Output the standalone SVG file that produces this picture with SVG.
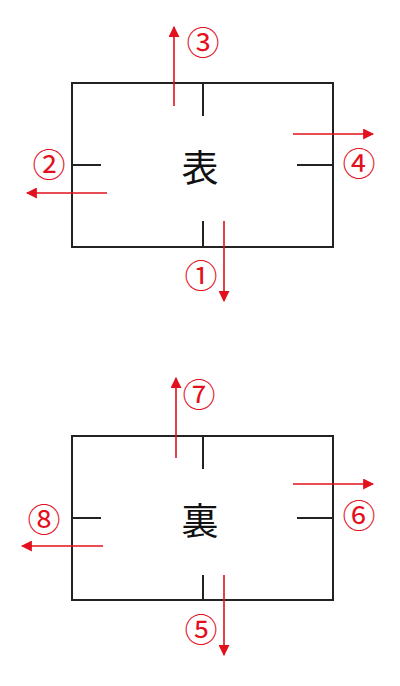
<svg xmlns="http://www.w3.org/2000/svg" width="400" height="686" viewBox="0 0 400 686">
<style>
.box{fill:none;stroke:#222;stroke-width:2}
.tick{stroke:#222;stroke-width:2}
.arr{stroke:#e3101e;stroke-width:1.6;fill:none;marker-end:url(#ah)}
.num{fill:#e3101e;font-family:"Noto Sans CJK JP","Noto Sans CJK SC",sans-serif;font-size:33px;text-anchor:middle;dominant-baseline:central}
.main{fill:#111;font-family:"Noto Sans CJK JP","Noto Sans CJK SC",sans-serif;font-size:37px;text-anchor:middle;dominant-baseline:central}
</style>
<defs>
<marker id="ah" viewBox="0 0 10 10" refX="9" refY="5" markerWidth="11" markerHeight="11" markerUnits="userSpaceOnUse" orient="auto">
<path d="M0,0 L10,5 L0,10 Z" fill="#e3101e"/>
</marker>
</defs>
<rect width="400" height="686" fill="#fff"/>
<g id="front">
<rect class="box" x="72" y="83" width="261" height="164"/>
<line class="tick" x1="203" y1="83" x2="203" y2="116"/>
<line class="tick" x1="203" y1="221" x2="203" y2="247"/>
<line class="tick" x1="72" y1="165" x2="101" y2="165"/>
<line class="tick" x1="297" y1="165" x2="333" y2="165"/>
<text class="main" x="200" y="166">表</text>
</g>
<g id="back">
<rect class="box" x="72" y="436" width="261" height="164"/>
<line class="tick" x1="203" y1="436" x2="203" y2="469"/>
<line class="tick" x1="203" y1="575" x2="203" y2="600"/>
<line class="tick" x1="72" y1="518" x2="101" y2="518"/>
<line class="tick" x1="297" y1="518" x2="333" y2="518"/>
<text class="main" x="200" y="519">裏</text>
</g>
<g id="connectors">
<line class="arr" x1="224" y1="221" x2="224" y2="301"/>
<line class="arr" x1="107" y1="193" x2="27" y2="193"/>
<line class="arr" x1="174" y1="106" x2="174" y2="27"/>
<line class="arr" x1="293" y1="134" x2="373" y2="134"/>
<line class="arr" x1="224" y1="575" x2="224" y2="655"/>
<line class="arr" x1="293" y1="484" x2="373" y2="484"/>
<line class="arr" x1="176" y1="458" x2="176" y2="378"/>
<line class="arr" x1="103" y1="546" x2="22" y2="546"/>
</g>
<g id="labels">
<text class="num" x="201" y="274">①</text>
<text class="num" x="49" y="163">②</text>
<text class="num" x="203" y="41">③</text>
<text class="num" x="359" y="162">④</text>
<text class="num" x="201" y="628">⑤</text>
<text class="num" x="359" y="514">⑥</text>
<text class="num" x="199" y="393">⑦</text>
<text class="num" x="44" y="518">⑧</text>
</g>
</svg>
